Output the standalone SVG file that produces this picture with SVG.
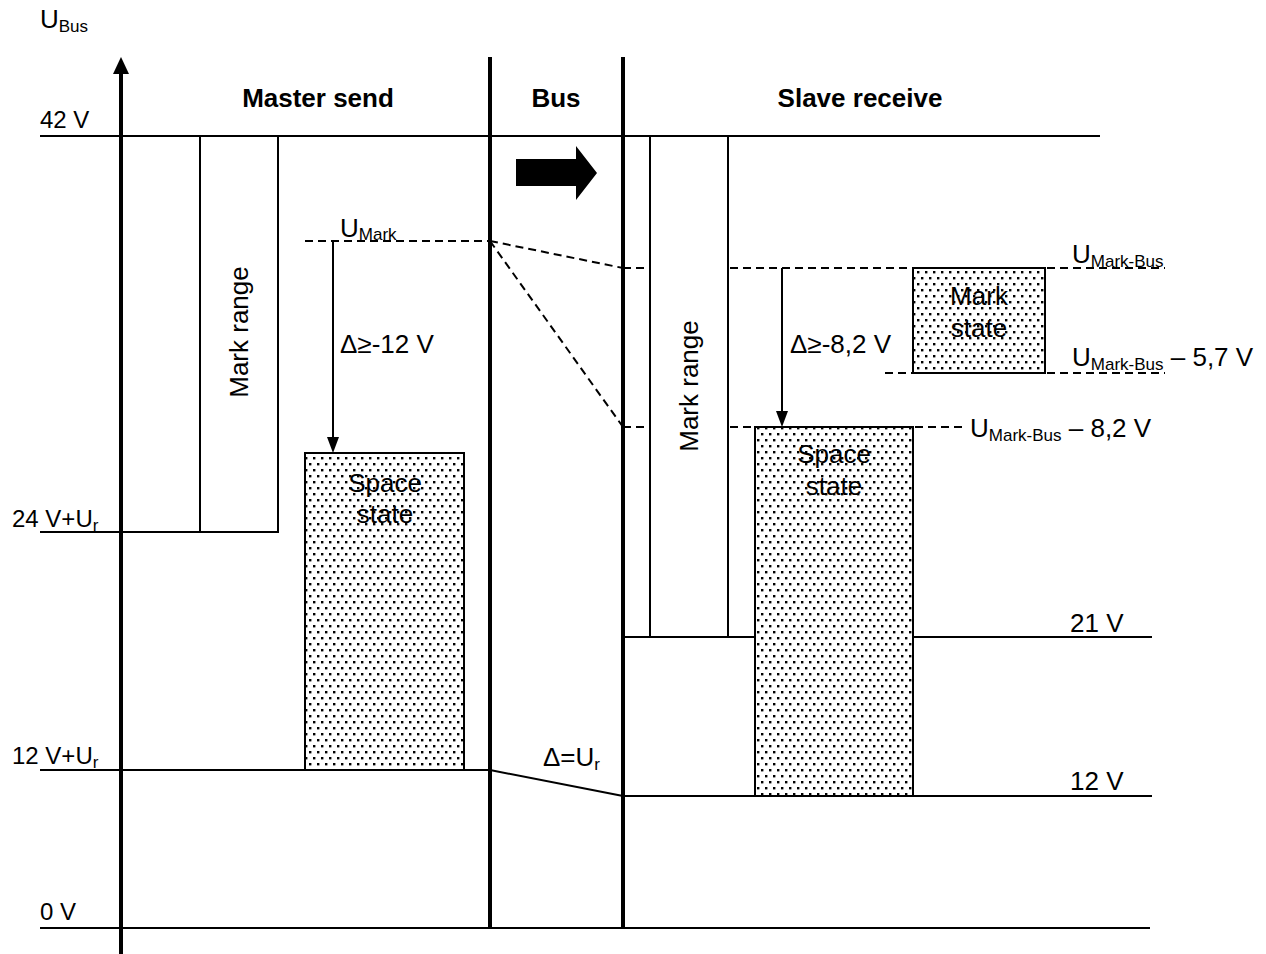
<svg xmlns="http://www.w3.org/2000/svg" width="1266" height="954" viewBox="0 0 1266 954">
<style>
text{font-family:"Liberation Sans",Arial,sans-serif;font-size:26px;fill:#000}
.b{font-weight:bold}
.ax{font-size:24px}
.ln{stroke:#000;stroke-width:2;fill:none}
.thk{stroke:#000;stroke-width:4;fill:none}
.ds{stroke:#000;stroke-width:2;stroke-dasharray:8,5;fill:none}
.box{stroke:#000;stroke-width:2;fill:#fff}
.dot{stroke:#000;stroke-width:2;fill:url(#dots)}
.sub{font-size:17px}
.ah{fill:#000}
</style>
<defs>
<pattern id="dots" width="8" height="12" patternUnits="userSpaceOnUse">
<rect width="8" height="12" fill="#fff"/>
<rect x="1" y="1" width="2.4" height="2.4" fill="#000"/>
<rect x="5" y="7" width="2.4" height="2.4" fill="#000"/>
</pattern>
</defs>
<rect width="1266" height="954" fill="#fff"/>
<g id="axes">
<line class="thk" x1="121" y1="70" x2="121" y2="955" stroke-width="3"/>
<path d="M113,74 L129,74 L121,57 Z" fill="#000"/>
<text x="40" y="28" font-size="24">U<tspan class="sub" font-size="16" dy="4">Bus</tspan></text>
<line class="ln" x1="40" y1="136" x2="1100" y2="136"/>
<line class="ln" x1="40" y1="532" x2="278" y2="532"/>
<line class="ln" x1="40" y1="770" x2="490" y2="770"/>
<line class="ln" x1="40" y1="928" x2="1150" y2="928"/>
<line class="ln" x1="623" y1="637" x2="1152" y2="637"/>
<line class="ln" x1="623" y1="796" x2="1152" y2="796"/>
<line class="ln" x1="490" y1="770" x2="623" y2="796"/>
<line class="thk" x1="490" y1="57" x2="490" y2="928"/>
<line class="thk" x1="623" y1="57" x2="623" y2="928"/>
<text class="ax" x="40" y="128">42 V</text>
<text class="ax" x="12" y="527">24 V+U<tspan class="sub" font-size="16" dy="4">r</tspan></text>
<text class="ax" x="12" y="764">12 V+U<tspan class="sub" font-size="16" dy="4">r</tspan></text>
<text class="ax" x="40" y="920" font-size="25">0 V</text>
<text x="1070" y="632">21 V</text>
<text x="1070" y="790">12 V</text>
<text x="543" y="766" font-size="24">Δ=U<tspan class="sub" font-size="16" dy="4">r</tspan></text>
</g>
<g id="headers">
<text class="b" x="318" y="107" text-anchor="middle">Master send</text>
<text class="b" x="556" y="107" text-anchor="middle">Bus</text>
<text class="b" x="860" y="107" text-anchor="middle">Slave receive</text>
</g>
<g id="bus-arrow">
<path d="M516,159 L576,159 L576,146 L597,173 L576,200 L576,186 L516,186 Z" fill="#000"/>
</g>
<g id="master-mark-range">
<rect class="box" x="200" y="136" width="78" height="396"/>
<text transform="translate(248,332) rotate(-90)" text-anchor="middle">Mark range</text>
</g>
<g id="master-space-state">
<rect class="dot" x="305" y="453" width="159" height="317"/>
<text x="385" y="492" text-anchor="middle">Space</text>
<text x="385" y="523" text-anchor="middle">state</text>
</g>
<g id="slave-mark-range">
<rect class="box" x="650" y="136" width="78" height="501"/>
<text transform="translate(698,386) rotate(-90)" text-anchor="middle">Mark range</text>
</g>
<g id="slave-space-state">
<rect class="dot" x="755" y="427" width="158" height="369"/>
<text x="834" y="463" text-anchor="middle">Space</text>
<text x="834" y="495" text-anchor="middle">state</text>
</g>
<g id="slave-mark-state">
<rect class="dot" x="913" y="268" width="132" height="105"/>
<text x="979" y="305" text-anchor="middle">Mark</text>
<text x="979" y="337" text-anchor="middle">state</text>
</g>
<g id="connectors">
<line class="ds" x1="305" y1="241" x2="490" y2="241"/>
<line class="ds" x1="490" y1="241" x2="623" y2="268"/>
<line class="ds" x1="490" y1="241" x2="623" y2="427"/>
<line class="ds" x1="623" y1="268" x2="650" y2="268"/>
<line class="ds" x1="730" y1="268" x2="913" y2="268"/>
<line class="ds" x1="1047" y1="268" x2="1165" y2="268"/>
<line class="ds" x1="885" y1="373" x2="913" y2="373"/>
<line class="ds" x1="1047" y1="373" x2="1165" y2="373"/>
<line class="ds" x1="623" y1="427" x2="650" y2="427"/>
<line class="ds" x1="730" y1="427" x2="755" y2="427"/>
<line class="ds" x1="915" y1="427" x2="965" y2="427"/>
<line class="ln" x1="333" y1="241" x2="333" y2="440"/>
<path class="ah" d="M327,437 L339,437 L333,453 Z"/>
<line class="ln" x1="782" y1="268" x2="782" y2="414"/>
<path class="ah" d="M776,411 L788,411 L782,427 Z"/>
<text x="340" y="237" font-size="21">U<tspan class="sub" font-size="14" dy="3">Mark</tspan></text>
<text x="340" y="353">Δ≥-12 V</text>
<text x="790" y="353">Δ≥-8,2 V</text>
<text x="1072" y="263">U<tspan class="sub" dy="4">Mark-Bus</tspan></text>
<text x="1072" y="366">U<tspan class="sub" dy="4">Mark-Bus</tspan><tspan dy="-4"> – 5,7 V</tspan></text>
<text x="970" y="437">U<tspan class="sub" dy="4">Mark-Bus</tspan><tspan dy="-4"> – 8,2 V</tspan></text>
</g>
</svg>
